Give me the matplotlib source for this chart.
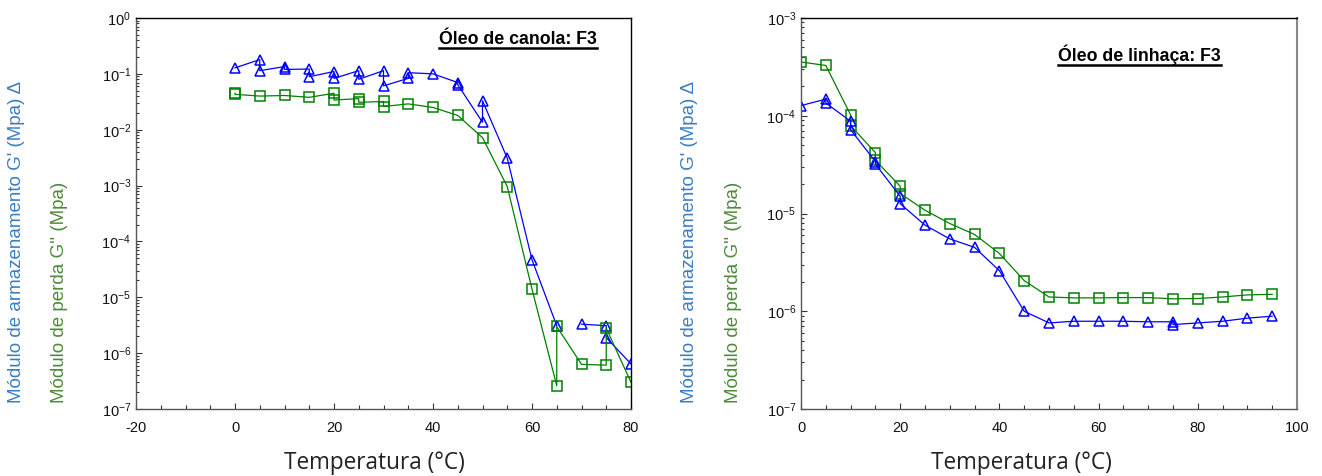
from matplotlib import pyplot as plt
from matplotlib.ticker import MultipleLocator, LogLocator, NullFormatter
from matplotlib.lines import Line2D
import numpy as np

nan = np.nan

# Óleo de canola: F3 (replicates share the same temperature)
canola_t_g1 = [0, 5, 5, 10, 10, 15, 15, 20, 20, 25, 25, 30, 30, 35, 35, 40, 45, 45,
               50, 50, 55, 60, 65, nan, 70, 75, 75, 80]
canola_g1 = [0.128, 0.18, 0.114, 0.135, 0.12, 0.122, 0.089, 0.11, 0.083, 0.114, 0.08,
             0.114, 0.061, 0.083, 0.105, 0.1, 0.07, 0.064, 0.0136, 0.033, 0.0031,
             4.7e-5, 3.1e-6, nan, 3.3e-6, 3.1e-6, 1.9e-6, 6.4e-7]

canola_t_g2 = [0, 0, 5, 10, 15, 20, 20, 25, 25, 30, 30, 35, 40, 45, 50, 55, 60, 65, 65,
               70, 75, 75, 80]
canola_g2 = [0.045, 0.043, 0.040, 0.041, 0.038, 0.045, 0.034, 0.036, 0.031, 0.032,
             0.026, 0.029, 0.025, 0.018, 0.0072, 0.00096, 1.4e-5, 2.6e-7, 3.0e-6,
             6.3e-7, 6.1e-7, 2.8e-6, 3.0e-7]

# Óleo de linhaça: F3
linhaca_t_g1 = [0, 5, 5, 10, 10, 15, 15, 20, 20, 25, 30, 35, 40, 45, 50, 55, 60, 65,
                70, 75, 75, 80, 85, 90, 95]
linhaca_g1 = [1.27e-4, 1.48e-4, 1.35e-4, 8.8e-5, 7.2e-5, 3.4e-5, 3.2e-5, 1.5e-5,
              1.26e-5, 7.6e-6, 5.5e-6, 4.5e-6, 2.6e-6, 1.0e-6, 7.6e-7, 7.9e-7, 7.9e-7,
              7.9e-7, 7.8e-7, 7.8e-7, 7.3e-7, 7.6e-7, 7.9e-7, 8.5e-7, 8.9e-7]

linhaca_t_g2 = [0, 5, 10, 10, 15, 15, 20, 20, 25, 30, 35, 40, 45, 50, 55, 60, 65, 70,
                75, 80, 85, 90, 95]
linhaca_g2 = [3.55e-4, 3.27e-4, 1.02e-4, 7.9e-5, 4.2e-5, 3.5e-5, 1.9e-5, 1.6e-5,
              1.08e-5, 7.9e-6, 6.1e-6, 3.9e-6, 2.06e-6, 1.40e-6, 1.37e-6, 1.37e-6,
              1.38e-6, 1.38e-6, 1.34e-6, 1.35e-6, 1.40e-6, 1.47e-6, 1.49e-6]

plt.rcParams['font.family'] = ['Liberation Sans', 'DejaVu Sans']
plt.rcParams['axes.unicode_minus'] = False

W, H = 1322, 476
fig = plt.figure(figsize=(W / 100, H / 100), dpi=100)

ax1 = fig.add_axes([136 / W, 1 - 409 / H, 495 / W, 391 / H])
ax2 = fig.add_axes([801 / W, 1 - 409 / H, 496 / W, 391 / H])

blue = '#0000ff'
green = '#008000'

ax1.plot(canola_t_g1, canola_g1, color=blue, lw=0.9, marker='^', ms=7.5,
         mfc='none', mec=blue, mew=1.1)
ax1.plot(canola_t_g2, canola_g2, color=green, lw=0.9, marker='s', ms=7,
         mfc='none', mec=green, mew=1.1)
ax2.plot(linhaca_t_g2, linhaca_g2, color=green, lw=0.9, marker='s', ms=7,
         mfc='none', mec=green, mew=1.1)
ax2.plot(linhaca_t_g1, linhaca_g1, color=blue, lw=0.9, marker='^', ms=7.5,
         mfc='none', mec=blue, mew=1.1)

ax1.set_xlim(-20, 80)
ax1.set_ylim(1e-7, 1)
ax2.set_xlim(0, 100)
ax2.set_ylim(1e-7, 1e-3)

for ax in (ax1, ax2):
    ax.set_yscale('log')
    ax.yaxis.set_major_locator(LogLocator(base=10, numticks=20))
    ax.yaxis.set_minor_locator(LogLocator(base=10, subs=np.arange(2, 10), numticks=20))
    ax.yaxis.set_minor_formatter(NullFormatter())
    ax.xaxis.set_major_locator(MultipleLocator(20))
    ax.xaxis.set_minor_locator(MultipleLocator(5))
    ax.tick_params(which='both', direction='in', labelsize=10.5, colors='#333333',
                   labelcolor='#111111', width=0.8)
    ax.tick_params(which='major', length=4)
    ax.tick_params(which='minor', length=3)
    ax.tick_params(axis='y', which='minor', length=2.5)
    ax.tick_params(axis='x', pad=9)
    for side in ('left', 'bottom'):
        ax.spines[side].set_color('#555555')
    ax.spines['top'].set_color('black')
    ax.spines['right'].set_color('black')
    for s in ax.spines.values():
        s.set_linewidth(1.0)
ax2.spines['right'].set_color('#888888')
ax2.spines['right'].set_linewidth(1.5)

t1 = ax1.text(0.772, 0.944, 'Óleo de canola: F3', transform=ax1.transAxes,
              ha='center', va='center', fontsize=12.8, fontweight='bold')
t2 = ax2.text(0.683, 0.905, 'Óleo de linhaça: F3', transform=ax2.transAxes,
              ha='center', va='center', fontsize=12.8, fontweight='bold')

lab_blue = '#3a7dc4'
lab_green = '#4e8a3a'
for xb, xg, xl in ((17, 60, 374), (690, 733, 1021)):
    fig.text(xb / W, 1 - 403 / H, "Módulo de armazenamento G' (Mpa) Δ", rotation=90,
             ha='center', va='bottom', fontsize=13.5, color=lab_blue)
    fig.text(xg / W, 1 - 403 / H, "Módulo de perda G'' (Mpa)", rotation=90,
             ha='center', va='bottom', fontsize=13.5, color=lab_green)
    fig.text(xl / W, 1 - 463 / H, 'Temperatura (°C)', ha='center', va='center',
             fontsize=16.3, color='#222222', family=['Open Sans', 'DejaVu Sans'])

# underline the panel titles
fig.canvas.draw()
r = fig.canvas.get_renderer()
for t in (t1, t2):
    bb = t.get_window_extent(renderer=r)
    y = (bb.y0 + 0.5) / H
    fig.add_artist(Line2D([bb.x0 / W, bb.x1 / W], [y, y], color='black', lw=1.8))

plt.savefig('out.png', dpi=100)
